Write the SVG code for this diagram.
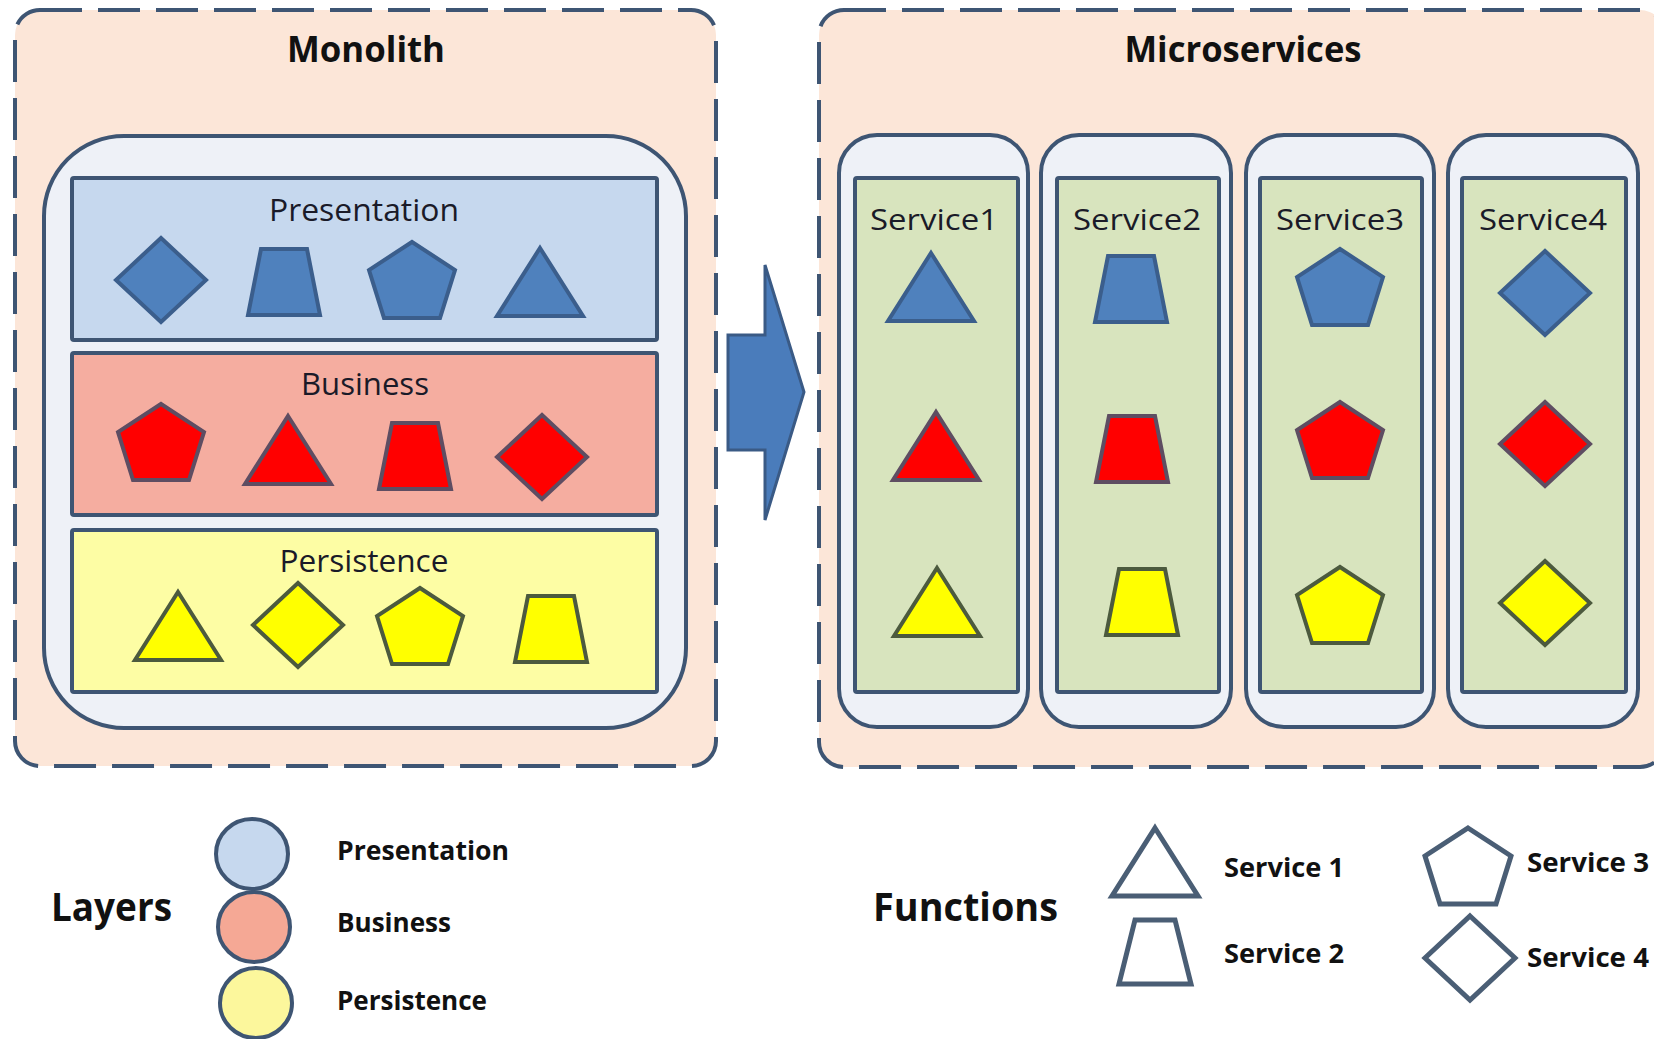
<svg xmlns="http://www.w3.org/2000/svg" xmlns:xlink="http://www.w3.org/1999/xlink" width="1654" height="1039" viewBox="0 0 1654 1039">
<style>
  .outer{fill:#FCE6D8;stroke:#3E5573;stroke-width:4;stroke-dasharray:42 16}
  .inner{fill:#EEF1F7;stroke:#3E5573;stroke-width:4}
  .pres{fill:#C6D8EE;stroke:#3E5573;stroke-width:4}
  .bus{fill:#F5ADA0;stroke:#3E5573;stroke-width:4}
  .pers{fill:#FDFDA4;stroke:#3E5573;stroke-width:4}
  .green{fill:#D8E4BE;stroke:#3E5573;stroke-width:4}
  .blue{fill:#4F81BD;stroke:#3B5E8C;stroke-width:4;stroke-linejoin:miter}
  .red{fill:#FF0000;stroke:#5E4D62;stroke-width:4}
  .yellow{fill:#FFFF00;stroke:#4C5A3E;stroke-width:4}
  .outline{fill:#FFFFFF;stroke:#4A5E75;stroke-width:5}
  .title{font-family:"Open Sans","Noto Sans",sans-serif;font-weight:bold;font-size:35px;fill:#111111;text-anchor:middle}
  .layer{font-family:"Open Sans","Noto Sans",sans-serif;font-size:31px;fill:#1A1A28;text-anchor:middle}
  .svc{font-family:"Open Sans","Noto Sans",sans-serif;font-size:30px;fill:#1A1A28;text-anchor:middle}
  .big{font-family:"Open Sans","Noto Sans",sans-serif;font-weight:bold;font-size:40px;fill:#111111}
  .leg{font-family:"Open Sans","Noto Sans",sans-serif;font-weight:bold;font-size:27px;fill:#111111}
  .lc{stroke:#3E5573;stroke-width:4}
</style>
<defs>
  <polygon id="tri" points="0,-34 43,34 -43,34"/>
  <polygon id="trap" points="-23,-33 23,-33 36,33 -36,33"/>
  <polygon id="pent" points="0,-38 43,-10 28,38 -28,38 -43,-10"/>
  <polygon id="dia" points="0,-42 45,0 0,42 -45,0"/>
  <polygon id="trapL" points="-20,-32 20,-32 36,32 -36,32"/>
</defs>

<g id="monolith">
  <rect class="outer" x="15" y="10" width="701" height="756" rx="25"/>
  <text class="title" x="366" y="62" textLength="158" lengthAdjust="spacingAndGlyphs">Monolith</text>
  <rect class="inner" x="44" y="136" width="642" height="592" rx="80"/>
  <g id="layer-presentation">
    <rect class="pres" x="72" y="178" width="585" height="162" rx="2"/>
    <text class="layer" x="364" y="221" textLength="190" lengthAdjust="spacingAndGlyphs">Presentation</text>
    <use href="#dia" x="161" y="280" class="blue"/>
    <use href="#trap" x="284" y="282" class="blue"/>
    <use href="#pent" x="412" y="280" class="blue"/>
    <use href="#tri" x="540" y="282" class="blue"/>
  </g>
  <g id="layer-business">
    <rect class="bus" x="72" y="353" width="585" height="162" rx="2"/>
    <text class="layer" x="365" y="395" textLength="128" lengthAdjust="spacingAndGlyphs">Business</text>
    <use href="#pent" x="161" y="442" class="red"/>
    <use href="#tri" x="288" y="450" class="red"/>
    <use href="#trap" x="415" y="456" class="red"/>
    <use href="#dia" x="542" y="457" class="red"/>
  </g>
  <g id="layer-persistence">
    <rect class="pers" x="72" y="530" width="585" height="162" rx="2"/>
    <text class="layer" x="364" y="572" textLength="169" lengthAdjust="spacingAndGlyphs">Persistence</text>
    <use href="#tri" x="178" y="626" class="yellow"/>
    <use href="#dia" x="298" y="625" class="yellow"/>
    <use href="#pent" x="420" y="626" class="yellow"/>
    <use href="#trap" x="551" y="629" class="yellow"/>
  </g>
</g>

<g id="connectors">
  <polygon points="728,335 765,335 765,265 804,392 765,520 765,450 728,450" fill="#4A7CBB" stroke="#3A5A85" stroke-width="3" stroke-linejoin="miter"/>
</g>

<g id="microservices">
  <rect class="outer" x="819" y="10" width="846" height="757" rx="25"/>
  <text class="title" x="1243" y="62" textLength="237" lengthAdjust="spacingAndGlyphs">Microservices</text>
  <g id="service1">
    <rect class="inner" x="839" y="135" width="189" height="592" rx="38"/>
    <rect class="green" x="855" y="178" width="163" height="514" rx="2"/>
    <text class="svc" x="934" y="230" textLength="128" lengthAdjust="spacingAndGlyphs">Service1</text>
    <use href="#tri" x="931" y="287" class="blue"/>
    <use href="#tri" x="936" y="446" class="red"/>
    <use href="#tri" x="937" y="602" class="yellow"/>
  </g>
  <g id="service2">
    <rect class="inner" x="1041" y="135" width="190" height="592" rx="38"/>
    <rect class="green" x="1057" y="178" width="162" height="514" rx="2"/>
    <text class="svc" x="1137" y="230" textLength="128" lengthAdjust="spacingAndGlyphs">Service2</text>
    <use href="#trap" x="1131" y="289" class="blue"/>
    <use href="#trap" x="1132" y="449" class="red"/>
    <use href="#trap" x="1142" y="602" class="yellow"/>
  </g>
  <g id="service3">
    <rect class="inner" x="1246" y="135" width="188" height="592" rx="38"/>
    <rect class="green" x="1260" y="178" width="162" height="514" rx="2"/>
    <text class="svc" x="1340" y="230" textLength="128" lengthAdjust="spacingAndGlyphs">Service3</text>
    <use href="#pent" x="1340" y="287" class="blue"/>
    <use href="#pent" x="1340" y="440" class="red"/>
    <use href="#pent" x="1340" y="605" class="yellow"/>
  </g>
  <g id="service4">
    <rect class="inner" x="1448" y="135" width="190" height="592" rx="38"/>
    <rect class="green" x="1462" y="178" width="164" height="514" rx="2"/>
    <text class="svc" x="1543" y="230" textLength="128" lengthAdjust="spacingAndGlyphs">Service4</text>
    <use href="#dia" x="1545" y="293" class="blue"/>
    <use href="#dia" x="1545" y="444" class="red"/>
    <use href="#dia" x="1545" y="603" class="yellow"/>
  </g>
</g>

<g id="legend-layers">
  <text class="big" x="51" y="921" textLength="121" lengthAdjust="spacingAndGlyphs">Layers</text>
  <ellipse cx="256" cy="1003" rx="36" ry="35" fill="#FCF79C" class="lc"/>
  <ellipse cx="254" cy="927" rx="36" ry="35" fill="#F5A895" class="lc"/>
  <ellipse cx="252" cy="854" rx="36" ry="35" fill="#C6D8EE" class="lc"/>
  <text class="leg" x="337" y="860" textLength="172" lengthAdjust="spacingAndGlyphs">Presentation</text>
  <text class="leg" x="337" y="932" textLength="114" lengthAdjust="spacingAndGlyphs">Business</text>
  <text class="leg" x="337" y="1010" textLength="150" lengthAdjust="spacingAndGlyphs">Persistence</text>
</g>

<g id="legend-functions">
  <text class="big" x="873" y="921" textLength="185" lengthAdjust="spacingAndGlyphs">Functions</text>
  <use href="#tri" x="1155" y="862" class="outline"/>
  <use href="#trapL" x="1155" y="952" class="outline"/>
  <use href="#pent" x="1468" y="866" class="outline"/>
  <use href="#dia" x="1470" y="958" class="outline"/>
  <text class="leg" x="1224" y="877" textLength="120" lengthAdjust="spacingAndGlyphs">Service 1</text>
  <text class="leg" x="1224" y="963" textLength="120" lengthAdjust="spacingAndGlyphs">Service 2</text>
  <text class="leg" x="1527" y="872" textLength="122" lengthAdjust="spacingAndGlyphs">Service 3</text>
  <text class="leg" x="1527" y="967" textLength="122" lengthAdjust="spacingAndGlyphs">Service 4</text>
</g>
</svg>
